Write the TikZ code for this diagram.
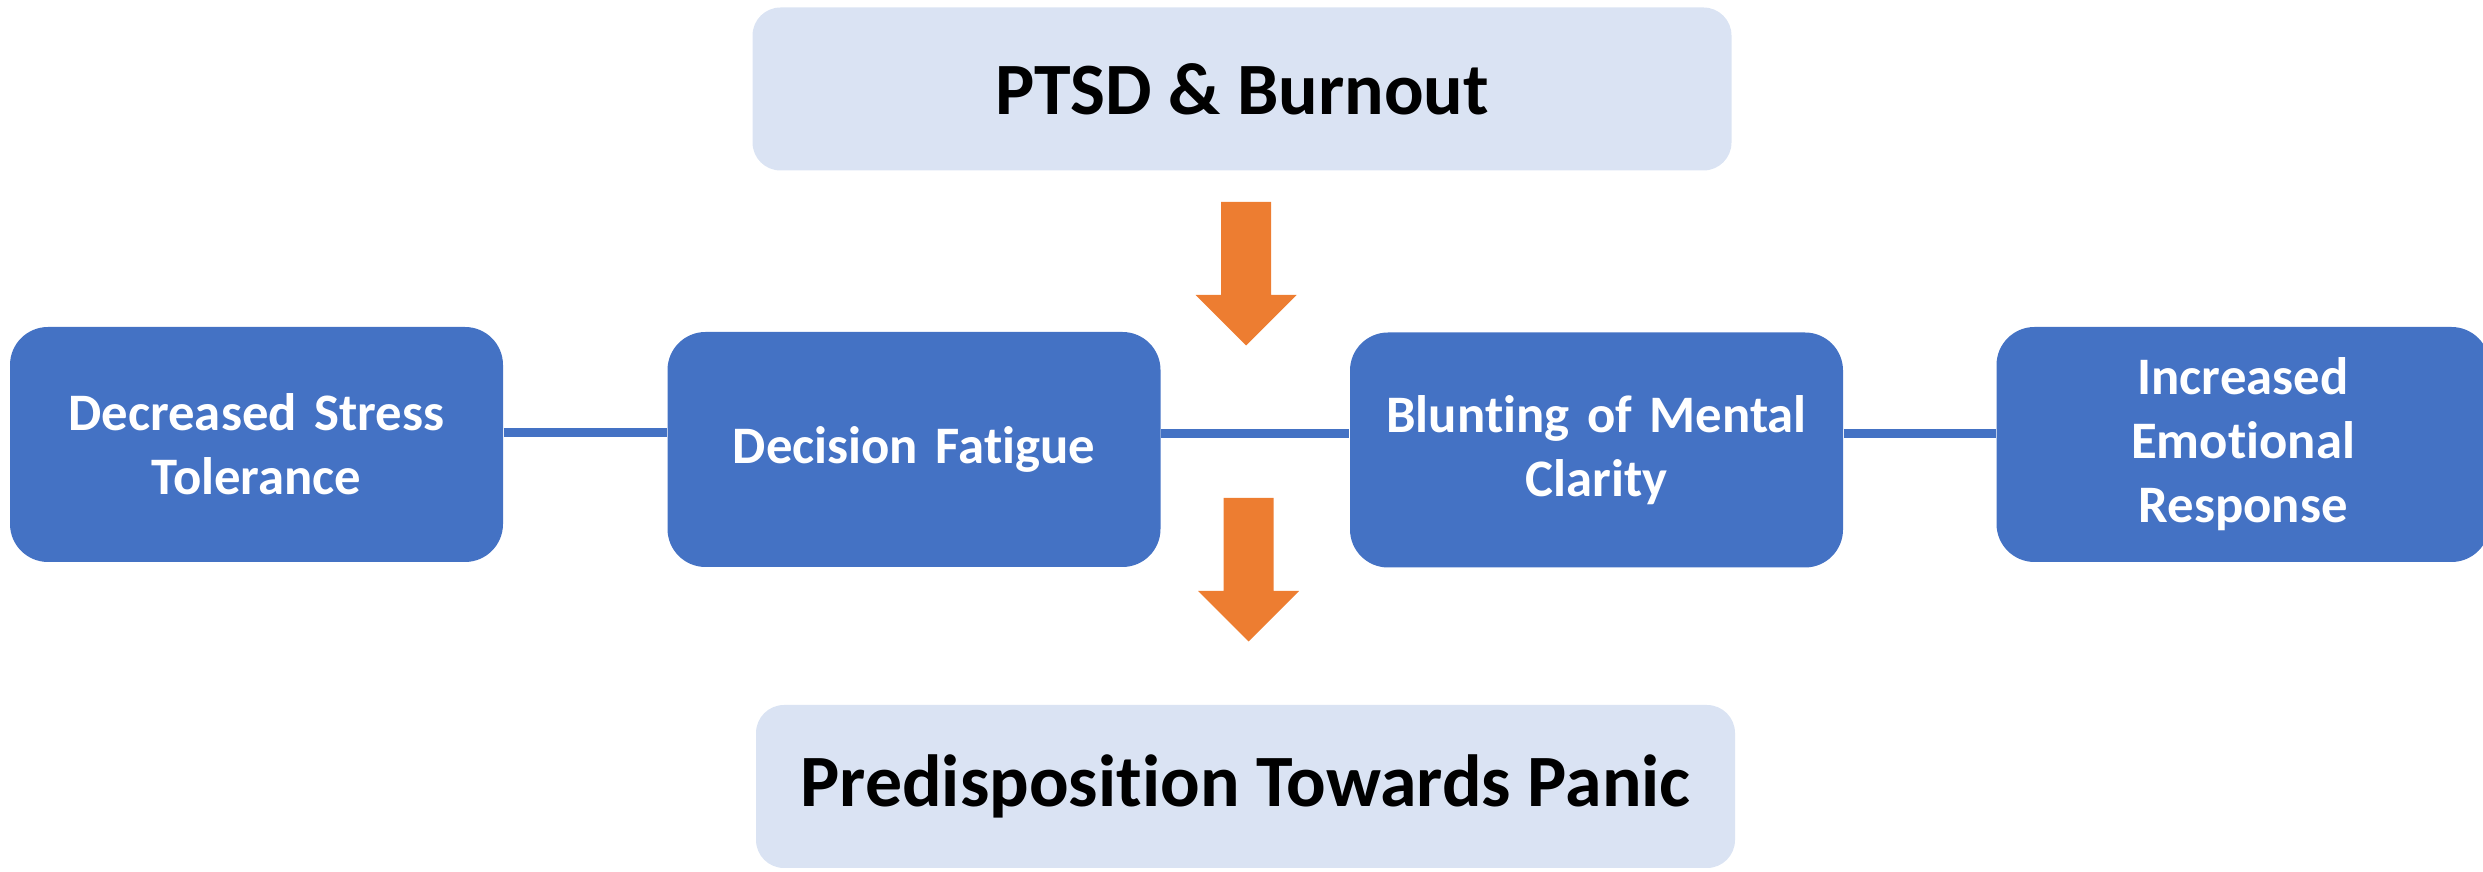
\documentclass[tikz,border=0pt]{standalone}
\usepackage{fontspec}
\setmainfont{Carlito}[Ligatures=NoCommon]
\usepackage{tikz}
\usetikzlibrary{shapes,arrows,positioning}
\definecolor{boxblue}{HTML}{4472C4}
\definecolor{boxlight}{HTML}{DAE3F3}
\definecolor{arroworange}{HTML}{ED7D31}
\newcommand{\downarrowblock}[1]{\fill[arroworange] (#1) ++(-25,0) -- ++(0,93) -- ++(-25.5,0) -- ++(50.5,50.5) -- ++(50.5,-50.5) -- ++(-25.5,0) -- ++(0,-93) -- cycle;}
\tikzstyle{topic} = [fill=boxlight, rectangle, rounded corners=2.8mm, inner sep=0pt, minimum width=97.9mm, minimum height=16.3mm, font=\bfseries\fontsize{21}{25}\selectfont, text=black]
\tikzstyle{factor} = [fill=boxblue, rectangle, rounded corners=3.8mm, inner sep=0pt, minimum width=49.3mm, minimum height=23.5mm, text width=45mm, align=center, font=\bfseries\fontsize{15}{18.2}\selectfont, text=white]
\tikzstyle{link} = [draw=boxblue, line width=0.9mm]

\begin{document}
\begin{tikzpicture}[x=0.1mm,y=-0.1mm]
\useasboundingbox (0,0) rectangle (2483,872);
\node[topic] (cause) at (1242,89) {PTSD \& Burnout};
\node[topic] (result) at (1245.5,786.5) {Predisposition Towards Panic};
\node[factor] (stress) at (256.5,444.5) {Decreased Stress\\Tolerance};
\node[factor] (fatigue) at (914,449.5) {Decision Fatigue};
\node[factor] (clarity) at (1596.5,450) {Blunting of Mental\\Clarity};
\node[factor] (emotion) at (2243,444.5) {Increased\\Emotional\\Response};
\draw[link] (stress.east |- 0,433) -- (fatigue.west |- 0,433);
\draw[link] (fatigue.east |- 0,434) -- (clarity.west |- 0,434);
\draw[link] (clarity.east |- 0,434) -- (emotion.west |- 0,434);
\coordinate (intop) at (1246,202);
\coordinate (inbottom) at (1248.5,498);
\downarrowblock{intop}
\downarrowblock{inbottom}
\end{tikzpicture}
\end{document}
